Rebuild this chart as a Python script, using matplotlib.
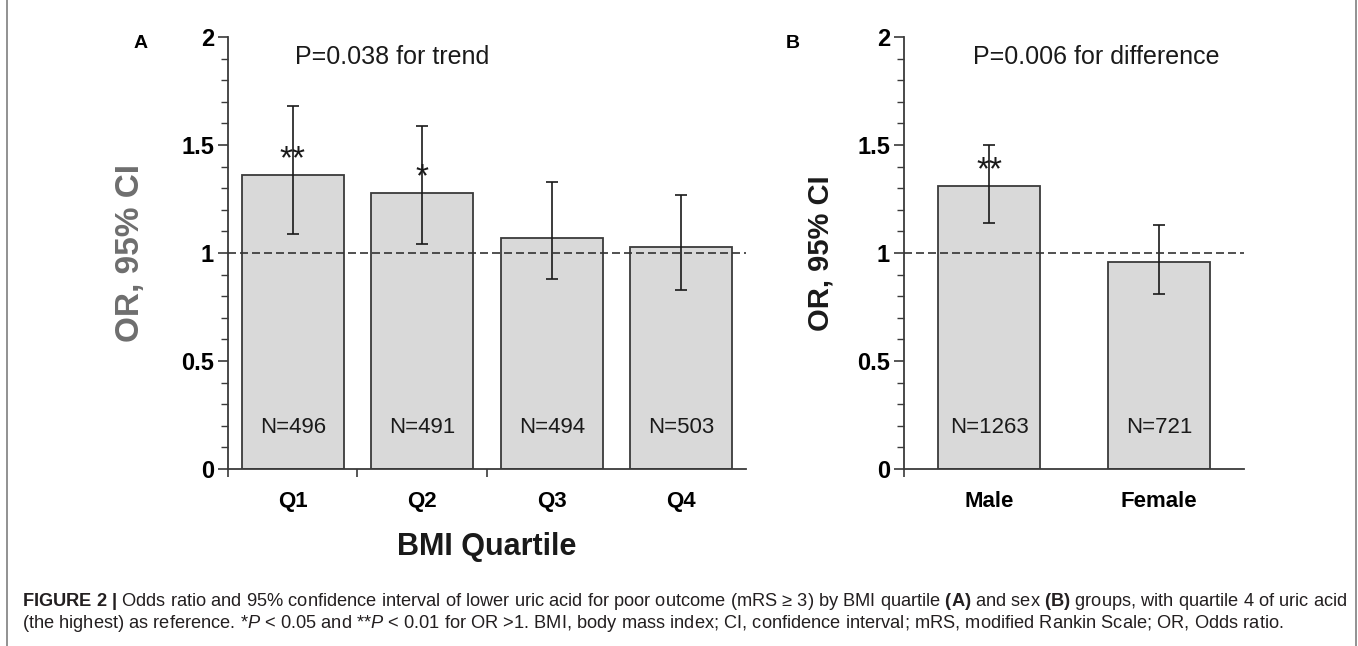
import matplotlib
matplotlib.use("Agg")
import numpy as np
import matplotlib.pyplot as plt
from matplotlib.lines import Line2D

plt.rcParams['font.family'] = ['Liberation Sans', 'DejaVu Sans']
plt.rcParams['mathtext.fontset'] = 'custom'
plt.rcParams['mathtext.rm'] = 'Liberation Sans'
plt.rcParams['mathtext.bf'] = 'Liberation Sans:bold'
plt.rcParams['mathtext.it'] = 'Liberation Sans:italic'

# Panel A: BMI quartiles
quartiles = ['Q1', 'Q2', 'Q3', 'Q4']
or_bmi = [1.36, 1.28, 1.07, 1.03]
lo_bmi = [1.09, 1.04, 0.88, 0.83]
hi_bmi = [1.68, 1.59, 1.33, 1.27]
n_bmi = [496, 491, 494, 503]
stars_bmi = ['**', '*', '', '']

# Panel B: sex
sexes = ['Male', 'Female']
or_sex = [1.31, 0.96]
lo_sex = [1.14, 0.81]
hi_sex = [1.50, 1.13]
n_sex = [1263, 721]
stars_sex = ['**', '']

W, H = 1358, 646
fig = plt.figure(figsize=(W / 100, H / 100), dpi=100)

EDGE = '#3a3a3a'


def draw_panel(ax, labels, ors, los, his, ns, stars, width, ptext, ptext_x,
               ylab_color, ylab_size, ylab_x):
    x = np.arange(len(labels))
    ors = np.array(ors)
    err = [ors - np.array(los), np.array(his) - ors]
    ax.bar(x, ors, width, color='#d9d9d9', edgecolor=EDGE, linewidth=1.3, zorder=2)
    ax.errorbar(x, ors, yerr=err, fmt='none', ecolor='#1a1a1a', elinewidth=1.2,
                capsize=4, capthick=1.2, zorder=3)
    ax.axhline(1, color='#333333', lw=1.2, ls=(0, (4.8, 2.4)), zorder=4)

    for xi, v, n, s in zip(x, ors, ns, stars):
        ax.text(xi, 0.19, 'N=%d' % n, ha='center', va='center', fontsize=16,
                color='#1a1a1a')
        if s:
            ax.text(xi, v + 0.07, s, ha='center', va='center', fontsize=24,
                    color='#1a1a1a')

    ax.set_xlim(-0.5, len(labels) - 0.5)
    ax.set_ylim(0, 2)
    for side in ['top', 'right']:
        ax.spines[side].set_visible(False)
    for side in ['left', 'bottom']:
        ax.spines[side].set_color(EDGE)
        ax.spines[side].set_linewidth(1.3)

    ax.set_yticks([0, 0.5, 1, 1.5, 2])
    ax.set_yticklabels(['0', '0.5', '1', '1.5', '2'], fontweight='bold')
    ax.set_yticks(np.arange(0, 2.01, 0.1), minor=True)
    ax.tick_params(axis='y', which='major', length=7, width=1.2, color=EDGE,
                   labelsize=17, pad=3)
    ax.tick_params(axis='y', which='minor', length=5, width=1.0, color=EDGE)

    ax.set_xticks(x)
    ax.set_xticklabels(labels, fontweight='bold')
    ax.set_xticks(np.arange(len(labels) - 1) - 0.5, minor=True)
    ax.tick_params(axis='x', which='major', length=0, labelsize=16, pad=16)
    ax.tick_params(axis='x', which='minor', length=6, width=1.2, color=EDGE)

    ax.set_ylabel('OR, 95% CI', fontsize=ylab_size, fontweight='bold',
                  color=ylab_color)
    ax.yaxis.set_label_coords(ylab_x, 0.5)

    ax.text(ptext_x, 0.954, ptext, transform=ax.transAxes, ha='left',
            va='center', fontsize=18, color='#1a1a1a')


ax_a = fig.add_axes([228 / W, (H - 469) / H, (746 - 228) / W, 432 / H])
ax_b = fig.add_axes([904 / W, (H - 469) / H, (1244 - 904) / W, 432 / H])

draw_panel(ax_a, quartiles, or_bmi, lo_bmi, hi_bmi, n_bmi, stars_bmi, 0.79,
           'P=0.038 for trend', 0.129, '#6e6e6e', 24, -0.158)
draw_panel(ax_b, sexes, or_sex, lo_sex, hi_sex, n_sex, stars_sex, 0.6,
           'P=0.006 for difference', 0.203, '#1a1a1a', 21, -0.205)

ax_a.set_xlabel('BMI Quartile', fontsize=22, fontweight='bold', color='#1a1a1a')
ax_a.xaxis.set_label_coords(0.5, -0.145)

fig.text(141 / W, 1 - 43 / H, 'A', ha='center', va='center', fontsize=14,
         fontweight='bold')
fig.text(793 / W, 1 - 43 / H, 'B', ha='center', va='center', fontsize=14,
         fontweight='bold')

# caption
line1 = (r'$\mathbf{FIGURE\ 2\ |}$ Odds ratio and 95% confidence interval of lower uric acid '
         r'for poor outcome (mRS ≥ 3) by BMI quartile $\mathbf{(A)}$ and sex $\mathbf{(B)}$ '
         r'groups, with quartile 4 of uric acid')
line2 = (r'(the highest) as reference. *$\mathit{P}$ < 0.05 and **$\mathit{P}$ < 0.01 for OR >1. '
         r'BMI, body mass index; CI, confidence interval; mRS, modified Rankin Scale; OR, Odds ratio.')

t1 = fig.text(22 / W, 1 - 601 / H, line1, ha='left', va='center', fontsize=12,
              color='#231f20')
renderer = fig.canvas.get_renderer()
w1 = t1.get_window_extent(renderer).width
size = 12 * (1321 / w1)
t1.set_fontsize(size)
fig.text(22 / W, 1 - 623 / H, line2, ha='left', va='center', fontsize=size,
         color='#231f20')

# side borders of the figure frame
fig.add_artist(Line2D([7 / W, 7 / W], [0, 1], color='#7f7f7f', lw=1.2))
fig.add_artist(Line2D([1356 / W, 1356 / W], [0, 1], color='#7f7f7f', lw=1.2))

fig.savefig('out.png', dpi=100)
